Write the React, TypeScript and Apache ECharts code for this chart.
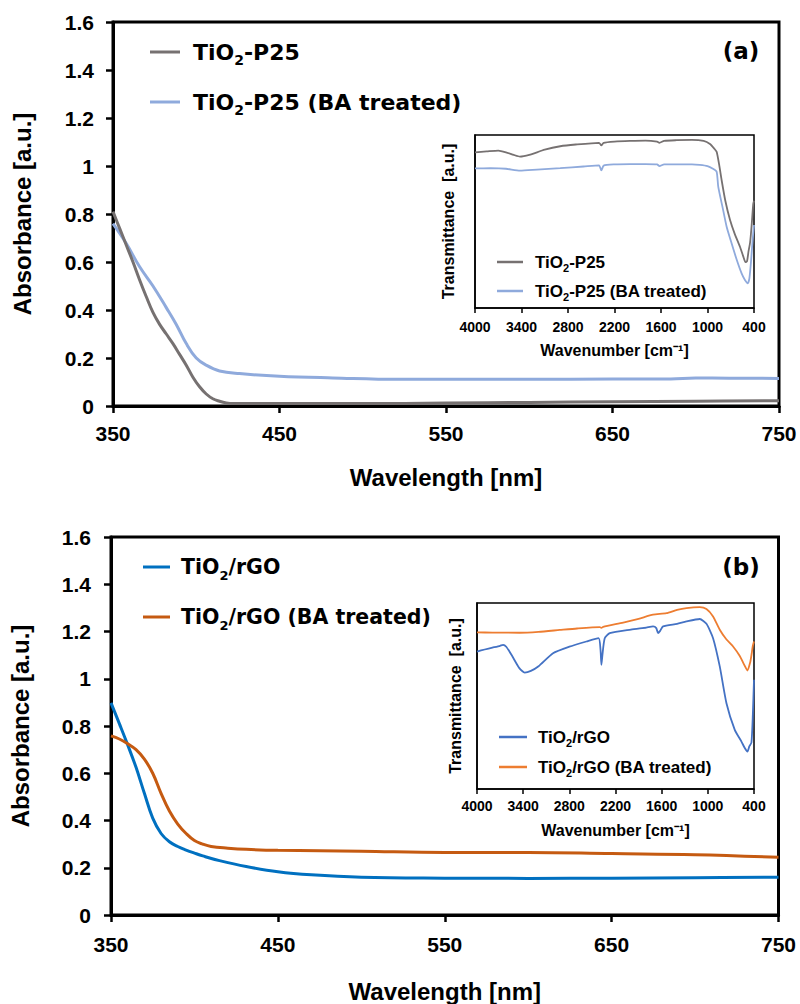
import React, { useEffect, useRef } from 'react';
import * as echarts from 'echarts';

// ---------- Panel (a): UV-Vis ----------
const wlP25 = [350, 354, 358, 362, 366, 370, 374, 378, 382, 386, 390, 394, 398, 402, 406, 410, 414, 418, 422, 430, 450, 500, 550, 600, 650, 700, 750];
const absP25 = [0.81, 0.74, 0.67, 0.6, 0.525, 0.455, 0.39, 0.34, 0.3, 0.26, 0.215, 0.17, 0.12, 0.08, 0.05, 0.03, 0.02, 0.013, 0.01, 0.01, 0.01, 0.01, 0.012, 0.015, 0.018, 0.02, 0.022];
const wlP25BA = [350, 358, 366, 374, 382, 388, 394, 400, 406, 414, 426, 450, 482, 522, 600, 650, 685, 700, 720, 750];
const absP25BA = [0.76, 0.677, 0.58, 0.5, 0.41, 0.34, 0.26, 0.2, 0.17, 0.146, 0.135, 0.124, 0.117, 0.111, 0.111, 0.112, 0.113, 0.117, 0.116, 0.115];

// ---------- Panel (a): FTIR inset ----------
const wnP25 = [4000, 3850, 3700, 3600, 3500, 3420, 3300, 3100, 2900, 2700, 2400, 2370, 2340, 2200, 2000, 1800, 1650, 1620, 1560, 1400, 1200, 1050, 968, 910, 882, 850, 818, 770, 710, 650, 581, 540, 510, 490, 470, 450, 430, 410, 400];
const trP25 = [90, 90.5, 91, 90, 88.5, 87.5, 88.5, 91.5, 93.5, 94.5, 95.5, 94, 95.5, 96.2, 96.6, 96.8, 96.2, 95.5, 96.6, 97, 97.2, 96.6, 94.8, 92, 90.3, 83, 74, 62, 51, 43, 35.4, 30, 26.5, 27, 33, 38, 48, 60, 62];
const wnP25BA = [4000, 3800, 3600, 3420, 3200, 2900, 2600, 2400, 2370, 2340, 2200, 2000, 1800, 1650, 1620, 1560, 1400, 1200, 1100, 1000, 930, 882, 861, 800, 753, 700, 624, 560, 517, 480, 460, 440, 420, 400];
const trP25BA = [80.7, 80.8, 80.5, 79.4, 80, 80.8, 81.8, 82.5, 79.5, 82.3, 83, 83.2, 83.2, 83, 82, 83, 83, 83, 82.7, 82, 80.5, 78.8, 70, 57, 47, 39, 28, 20, 16.2, 14.3, 17, 26, 38, 48];

// ---------- Panel (b): UV-Vis ----------
const wlRGO = [350, 355, 360, 365, 370, 375, 380, 385, 390, 395, 400, 405, 415, 431, 450, 470, 500, 550, 600, 650, 700, 750];
const absRGO = [0.898, 0.81, 0.72, 0.625, 0.515, 0.41, 0.345, 0.31, 0.29, 0.275, 0.262, 0.25, 0.23, 0.205, 0.183, 0.17, 0.16, 0.156, 0.155, 0.156, 0.158, 0.16];
const wlRGOBA = [350, 355, 360, 365, 370, 375, 380, 385, 390, 395, 400, 405, 410, 420, 431, 450, 500, 550, 600, 650, 700, 750];
const absRGOBA = [0.758, 0.745, 0.725, 0.7, 0.66, 0.6, 0.515, 0.44, 0.385, 0.345, 0.315, 0.3, 0.29, 0.283, 0.278, 0.274, 0.27, 0.265, 0.265, 0.26, 0.255, 0.244];

// ---------- Panel (b): FTIR inset ----------
const wnRGO = [4000, 3900, 3800, 3700, 3662, 3620, 3550, 3450, 3380, 3300, 3200, 3012, 2800, 2578, 2420, 2395, 2383, 2370, 2340, 2275, 2000, 1800, 1712, 1670, 1647, 1620, 1582, 1400, 1278, 1105, 1018, 932, 845, 758, 650, 563, 520, 485, 460, 433, 415, 400];
const trRGO = [73.9, 75, 76, 77, 77.5, 76.5, 72, 65, 62.6, 63.5, 66, 73, 76.5, 79.3, 81.1, 75, 66.8, 72, 81, 83.8, 85.7, 86.8, 87.4, 86.5, 83.8, 85, 87.4, 88.8, 90.1, 91.4, 88.8, 81.1, 65.9, 46.1, 31.8, 25.5, 22, 20.1, 23, 25, 40, 58.7];
const wnRGOBA = [4000, 3800, 3445, 3200, 2925, 2700, 2405, 2383, 2360, 2100, 1900, 1712, 1539, 1400, 1278, 1105, 1018, 932, 845, 760, 672, 585, 530, 485, 450, 433, 415, 400];
const trRGOBA = [84.2, 84.1, 84, 84.5, 85.5, 86.3, 87, 86.6, 87.2, 89.5, 91.5, 93.7, 94.5, 96.3, 97.3, 97.8, 96.8, 92.8, 85.6, 80.5, 76.6, 71.5, 67, 63.7, 68, 72, 77, 79.3];

// ---------- Ticks & labels ----------
const wlTicks = [350, 450, 550, 650, 750];
const wnTicks = [4000, 3400, 2800, 2200, 1600, 1000, 400];

const names: Record<string, string> = {
  p25: 'TiO{s|2}-P25',
  p25ba: 'TiO{s|2}-P25 (BA treated)',
  ip25: 'TiO{s|2}-P25',
  ip25ba: 'TiO{s|2}-P25 (BA treated)',
  rgo: 'TiO{s|2}/rGO',
  rgoba: 'TiO{s|2}/rGO (BA treated)',
  irgo: 'TiO{s|2}/rGO',
  irgoba: 'TiO{s|2}/rGO (BA treated)',
};

const ARIAL = "'Liberation Sans', Arial, sans-serif";
const DEJAVU = "'DejaVu Sans', sans-serif";

const zip = (xs: number[], ys: number[]) => xs.map((x, i) => [x, ys[i]]);

const mainX = (gridIndex: number, nameGap: number, labelMargin: number) => ({
  type: 'value', gridIndex, min: 350, max: 750,
  name: 'Wavelength [nm]', nameLocation: 'middle', nameGap,
  nameTextStyle: { fontFamily: ARIAL, fontWeight: 'bold', fontSize: 24, color: '#000' },
  axisLine: { show: true, onZero: false, lineStyle: { color: '#000', width: 3 } },
  axisTick: { show: true, inside: false, length: 7, customValues: wlTicks, lineStyle: { color: '#000', width: 2.5 } },
  axisLabel: { fontFamily: ARIAL, fontWeight: 'bold', fontSize: 21, color: '#000', margin: labelMargin, customValues: wlTicks, formatter: (v: number) => String(v) },
  splitLine: { show: false },
});

const mainY = (gridIndex: number, nameGap: number, labelMargin: number) => ({
  type: 'value', gridIndex, min: 0, max: 1.6, interval: 0.2,
  name: 'Absorbance [a.u.]', nameLocation: 'middle', nameGap,
  nameTextStyle: { fontFamily: ARIAL, fontWeight: 'bold', fontSize: 24, color: '#000' },
  axisLine: { show: true, onZero: false, lineStyle: { color: '#000', width: 3 } },
  axisTick: { show: true, inside: false, length: 7, lineStyle: { color: '#000', width: 2.5 } },
  axisLabel: { fontFamily: ARIAL, fontWeight: 'bold', fontSize: 21, color: '#000', margin: labelMargin },
  splitLine: { show: false },
});

const insetX = (gridIndex: number, nameGap: number, labelMargin: number) => ({
  type: 'value', gridIndex, min: 400, max: 4000, inverse: true,
  name: 'Wavenumber [cm\u207B\u00B9]', nameLocation: 'middle', nameGap,
  nameTextStyle: { fontFamily: ARIAL, fontWeight: 'bold', fontSize: 16, color: '#000' },
  axisLine: { show: true, onZero: false, lineStyle: { color: '#000', width: 1.5 } },
  axisTick: { show: true, inside: false, length: 5, customValues: wnTicks, lineStyle: { color: '#000', width: 1.5 } },
  axisLabel: { fontFamily: ARIAL, fontWeight: 'bold', fontSize: 14, color: '#000', margin: labelMargin, customValues: wnTicks, formatter: (v: number) => String(v) },
  splitLine: { show: false },
});

const insetY = (gridIndex: number, nameGap: number) => ({
  type: 'value', gridIndex, min: 0, max: 100,
  name: 'Transmittance  [a.u.]', nameLocation: 'middle', nameGap,
  nameTextStyle: { fontFamily: ARIAL, fontWeight: 'bold', fontSize: 16, color: '#000' },
  axisLine: { show: true, onZero: false, lineStyle: { color: '#000', width: 1.5 } },
  axisTick: { show: false },
  axisLabel: { show: false },
  splitLine: { show: false },
});

const line = (id: string, xi: number, data: number[][], color: string, width: number, smooth: boolean | number) => ({
  type: 'line', name: id, xAxisIndex: xi, yAxisIndex: xi, data, color,
  showSymbol: false, symbol: 'none', smooth,
  lineStyle: { color, width },
  emphasis: { disabled: true },
});

const legend = (data: string[], left: number, top: number, gap: number, iconW: number, font: string, size: number, lh: number, subSize: number, pad: number) => ({
  data, left, top, orient: 'vertical', itemGap: gap, itemWidth: iconW, itemHeight: size > 18 ? 3 : 2.5, icon: 'rect',
  selectedMode: false,
  formatter: (n: string) => names[n],
  textStyle: {
    fontFamily: font, fontWeight: 'bold', fontSize: size, color: '#000', lineHeight: lh, padding: [0, 0, 0, pad],
    rich: { s: { fontFamily: font, fontWeight: 'bold', fontSize: subSize, lineHeight: lh, verticalAlign: 'bottom', color: '#000' } },
  },
});

const option = {
  animation: false,
  backgroundColor: '#fff',
  grid: [
    { left: 113, top: 22, width: 666, height: 384, show: true, borderColor: '#000', borderWidth: 3, backgroundColor: 'transparent' },
    { left: 475, top: 135, width: 279, height: 173, show: true, borderColor: '#000', borderWidth: 1.5, backgroundColor: '#fff' },
    { left: 108.5, top: 537, width: 670, height: 380, show: true, borderColor: '#000', borderWidth: 3, backgroundColor: 'transparent' },
    { left: 477, top: 603, width: 277, height: 186, show: true, borderColor: '#000', borderWidth: 1.5, backgroundColor: '#fff' },
  ],
  xAxis: [mainX(0, 59, 17), insetX(1, 34, 12), mainX(2, 64, 19), insetX(3, 33, 10)],
  yAxis: [mainY(0, 79, 19), insetY(1, 19), mainY(2, 79, 20), insetY(3, 14)],
  legend: [
    legend(['p25', 'p25ba'], 145, 32, 20, 30, DEJAVU, 22, 30, 14, 8),
    legend(['ip25', 'ip25ba'], 492, 246, 7, 26, ARIAL, 17, 22, 11, 7),
    legend(['rgo', 'rgoba'], 138, 547, 20, 27, DEJAVU, 20.5, 30, 13, 6),
    legend(['irgo', 'irgoba'], 494, 721, 8, 28, ARIAL, 17, 22, 11, 6),
  ],
  graphic: [
    { type: 'text', x: 741, y: 51, style: { text: '(a)', font: `bold 23px ${DEJAVU}`, fill: '#000', textAlign: 'center', textVerticalAlign: 'middle' } },
    { type: 'text', x: 741, y: 567, style: { text: '(b)', font: `bold 23px ${DEJAVU}`, fill: '#000', textAlign: 'center', textVerticalAlign: 'middle' } },
  ],
  series: [
    line('p25ba', 0, zip(wlP25BA, absP25BA), '#8FAADC', 3, 0.4),
    line('p25', 0, zip(wlP25, absP25), '#767171', 3, 0.4),
    line('ip25', 1, zip(wnP25, trP25), '#767171', 1.8, 0.2),
    line('ip25ba', 1, zip(wnP25BA, trP25BA), '#8FAADC', 1.8, 0.2),
    line('rgo', 2, zip(wlRGO, absRGO), '#0070C0', 3, 0.4),
    line('rgoba', 2, zip(wlRGOBA, absRGOBA), '#C55A11', 3, 0.4),
    line('irgo', 3, zip(wnRGO, trRGO), '#4472C4', 1.8, 0.2),
    line('irgoba', 3, zip(wnRGOBA, trRGOBA), '#ED7D31', 1.8, 0.2),
  ],
};

export default function App() {
  const ref = useRef<HTMLDivElement>(null);
  useEffect(() => {
    document.body.style.margin = '0';
    const chart = echarts.init(ref.current as HTMLDivElement, null, { renderer: 'svg' });
    chart.setOption(option as any);
    return () => chart.dispose();
  }, []);
  return <div ref={ref} style={{ width: 800, height: 1004 }} />;
}
